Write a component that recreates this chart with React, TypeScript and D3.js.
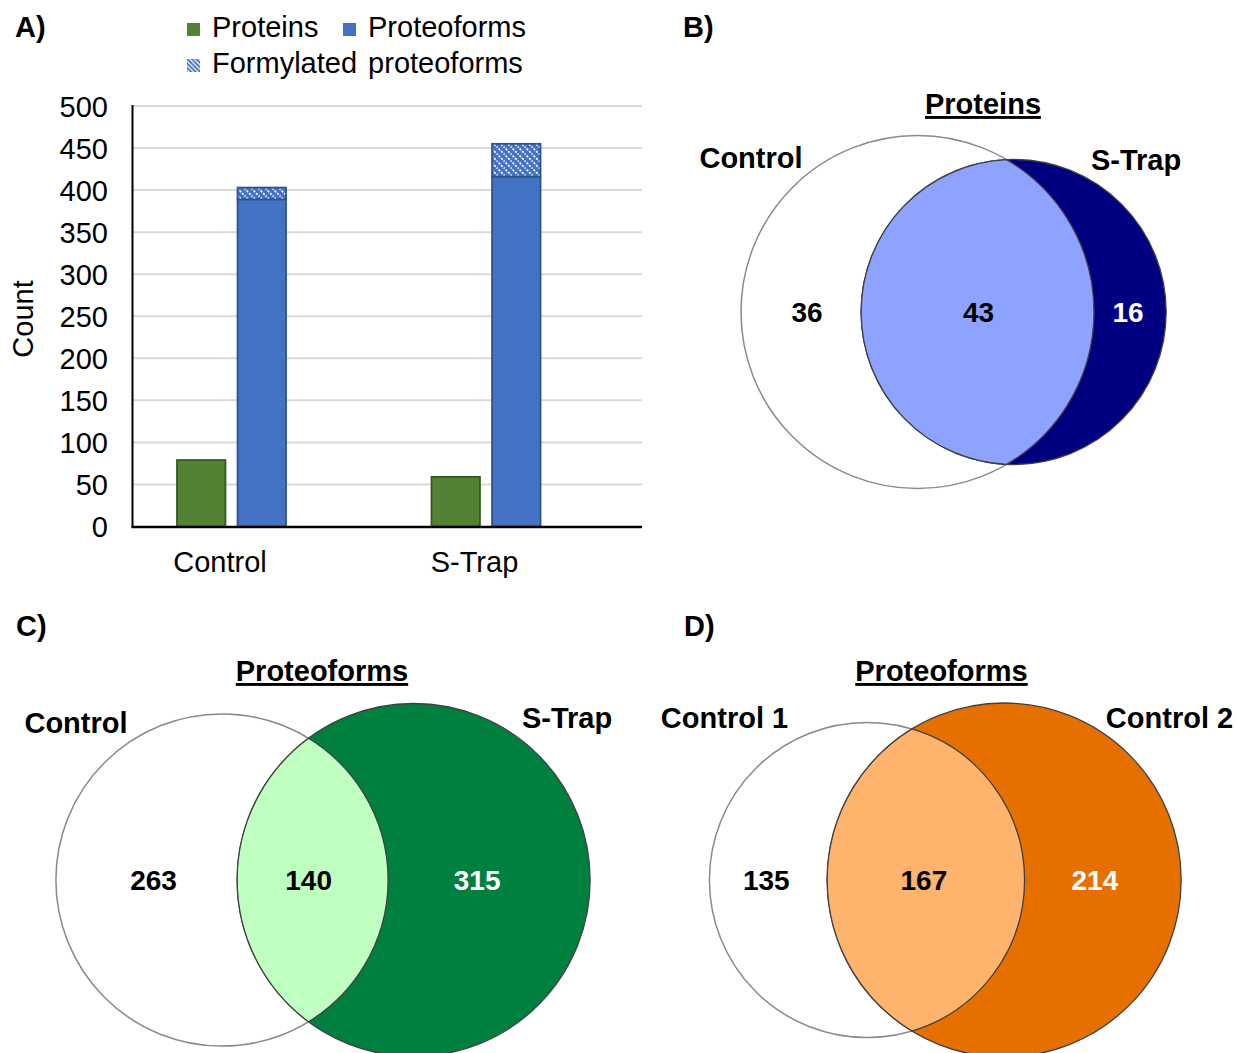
import React from "react";
import * as d3 from "d3";

// ---------- Panel A data ----------
const groups = ["Control", "S-Trap"];
const proteinCounts = [79, 59];
const proteoformCounts = [389, 416];
const formylatedCounts = [14, 39];
const yTicks = [0, 50, 100, 150, 200, 250, 300, 350, 400, 450, 500];
const legendLabels = ["Proteins", "Proteoforms", "Formylated proteoforms"];
const yAxisTitle = "Count";

// ---------- Venn data ----------
const panelLetters = ["A)", "B)", "C)", "D)"];
const vennTitles = ["Proteins", "Proteoforms", "Proteoforms"];
const vennSetLabels = [
  ["Control", "S-Trap"],
  ["Control", "S-Trap"],
  ["Control 1", "Control 2"],
];
// [left only, overlap, right only]
const vennCounts = [
  [36, 43, 16],
  [263, 140, 315],
  [135, 167, 214],
];

const FONT = "'Liberation Sans', Arial, Helvetica, sans-serif";
const C_GREEN = "#548235";
const C_GREEN_EDGE = "#385723";
const C_BLUE = "#4472C4";
const C_BLUE_EDGE = "#2F528F";

const vennStyles = [
  { right: "#000080", lens: "#8EA3FF" },
  { right: "#00803E", lens: "#BFFFC0" },
  { right: "#E57000", lens: "#FFB46E" },
];
const vennLayout = [
  { cx: 917.5, cy: 312, maxR: 176.5, title: [983, 114], left: [751, 168], right: [1136, 170], letter: [683, 37], nudge: [6, 1, -2] },
  { cx: 222, cy: 880, maxR: 176.5, title: [322, 681], left: [76, 733], right: [567, 728], letter: [16, 636], nudge: [7, -4, -12] },
  { cx: 867, cy: 880, maxR: 177, title: [941.5, 681], left: [724.5, 728], right: [1169.5, 728], letter: [684, 636], nudge: [-2, -2, -8] },
];

function lensArea(r1: number, r2: number, d: number) {
  if (d >= r1 + r2) return 0;
  if (d <= Math.abs(r1 - r2)) return Math.PI * Math.min(r1, r2) ** 2;
  const a1 = Math.acos((d * d + r1 * r1 - r2 * r2) / (2 * d * r1));
  const a2 = Math.acos((d * d + r2 * r2 - r1 * r1) / (2 * d * r2));
  const s = Math.sqrt((-d + r1 + r2) * (d + r1 - r2) * (d - r1 + r2) * (d + r1 + r2));
  return r1 * r1 * a1 + r2 * r2 * a2 - 0.5 * s;
}

function solveDistance(r1: number, r2: number, target: number) {
  let lo = Math.abs(r1 - r2) + 1e-6;
  let hi = r1 + r2;
  for (let i = 0; i < 80; i++) {
    const mid = (lo + hi) / 2;
    if (lensArea(r1, r2, mid) > target) lo = mid;
    else hi = mid;
  }
  return (lo + hi) / 2;
}

function Venn({ idx }: { idx: number }) {
  const [lo, ov, ro] = vennCounts[idx];
  const L = vennLayout[idx];
  const st = vennStyles[idx];
  const leftTotal = lo + ov;
  const rightTotal = ov + ro;
  const rScale = d3.scaleSqrt().domain([0, Math.max(leftTotal, rightTotal)]).range([0, L.maxR]);
  const r1 = rScale(leftTotal);
  const r2 = rScale(rightTotal);
  const k = L.maxR / Math.sqrt(Math.max(leftTotal, rightTotal));
  const target = Math.PI * k * k * ov;
  const d = solveDistance(r1, r2, target);
  const x1 = L.cx;
  const x2 = L.cx + d;
  const cy = L.cy;
  const a = (d * d + r1 * r1 - r2 * r2) / (2 * d);
  const h = Math.sqrt(Math.max(0, r1 * r1 - a * a));
  const px = x1 + a;
  const large1 = a > 0 ? 0 : 1;
  const large2 = a - d < 0 ? 0 : 1;
  const lens = `M${px},${cy - h} A${r1},${r1} 0 ${large1} 1 ${px},${cy + h} A${r2},${r2} 0 ${large2} 1 ${px},${cy - h} Z`;
  const labelY = cy + 10;
  const leftX = ((x1 - r1) + (x2 - r2)) / 2 + L.nudge[0];
  const midX = ((x2 - r2) + (x1 + r1)) / 2 + L.nudge[1];
  const rightX = ((x1 + r1) + (x2 + r2)) / 2 + L.nudge[2];
  const bold = { fontFamily: FONT, fontWeight: 700, fontSize: 29 } as const;
  return (
    <g>
      <circle cx={x1} cy={cy} r={r1} fill="#ffffff" stroke="#8a8a8a" strokeWidth={1.5} />
      <circle cx={x2} cy={cy} r={r2} fill={st.right} stroke="#404040" strokeWidth={1.3} />
      <path d={lens} fill={st.lens} stroke="#404040" strokeWidth={1.3} />
      <text x={leftX} y={labelY} textAnchor="middle" {...bold} fontSize={28} fill="#000">{lo}</text>
      <text x={midX} y={labelY} textAnchor="middle" {...bold} fontSize={28} fill="#000">{ov}</text>
      <text x={rightX} y={labelY} textAnchor="middle" {...bold} fontSize={28} fill="#fff">{ro}</text>
      <text x={L.title[0]} y={L.title[1]} textAnchor="middle" {...bold} style={{ textDecoration: "underline" }}>{vennTitles[idx]}</text>
      <text x={L.left[0]} y={L.left[1]} textAnchor="middle" {...bold}>{vennSetLabels[idx][0]}</text>
      <text x={L.right[0]} y={L.right[1]} textAnchor="middle" {...bold}>{vennSetLabels[idx][1]}</text>
      <text x={L.letter[0]} y={L.letter[1]} {...bold}>{panelLetters[idx + 1]}</text>
    </g>
  );
}

function BarPanel() {
  const x0 = d3.scaleBand().domain(groups).range([133, 642]);
  const x1 = d3.scaleBand().domain(["Proteins", "Proteoforms"]).range([44, 153]).paddingInner(0.2);
  const y = d3.scaleLinear().domain([0, 500]).range([526.5, 106]);
  const table = groups.map((g, i) => ({
    group: g,
    proteoforms: proteoformCounts[i],
    formylated: formylatedCounts[i],
  }));
  const stacked = d3.stack<any>().keys(["proteoforms", "formylated"])(table);
  const txt = { fontFamily: FONT, fontSize: 29 } as const;
  const bw = x1.bandwidth();
  return (
    <g>
      {yTicks.filter((t) => t > 0).map((t) => (
        <line key={t} x1={133} x2={642} y1={y(t)} y2={y(t)} stroke="#D9D9D9" strokeWidth={2} />
      ))}
      {yTicks.map((t) => (
        <text key={t} x={108} y={y(t) + 10.5} textAnchor="end" {...txt}>{t}</text>
      ))}
      {groups.map((g, i) => (
        <rect key={g} x={x0(g)! + x1("Proteins")!} y={y(proteinCounts[i])} width={bw}
          height={y(0) - y(proteinCounts[i])} fill={C_GREEN} stroke={C_GREEN_EDGE} strokeWidth={1.8} />
      ))}
      {stacked.map((layer) =>
        layer.map((seg, i) => (
          <rect key={layer.key + i} x={x0(groups[i])! + x1("Proteoforms")!} y={y(seg[1])} width={bw}
            height={y(seg[0]) - y(seg[1])}
            fill={layer.key === "formylated" ? "url(#hatch)" : C_BLUE}
            stroke={C_BLUE_EDGE} strokeWidth={1.8} />
        ))
      )}
      <line x1={132.5} x2={132.5} y1={105} y2={527.5} stroke="#000" strokeWidth={2} />
      <line x1={131.5} x2={642} y1={527} y2={527} stroke="#000" strokeWidth={2.5} />
      {groups.map((g) => (
        <text key={g} x={x0(g)! + 87} y={572} textAnchor="middle" {...txt}>{g}</text>
      ))}
      <text transform="translate(33,319) rotate(-90)" textAnchor="middle" {...txt}>{yAxisTitle}</text>
      {/* legend */}
      <rect x={187} y={23} width={13} height={13} fill={C_GREEN} />
      <text x={212} y={37} {...txt}>{legendLabels[0]}</text>
      <rect x={343} y={23} width={13} height={13} fill={C_BLUE} />
      <text x={368} y={37} {...txt}>{legendLabels[1]}</text>
      <rect x={187} y={59} width={13} height={13} fill="url(#hatchSmall)" />
      <text x={212} y={73} {...txt} style={{ wordSpacing: "3px" }}>{legendLabels[2]}</text>
      <text x={15} y={37} fontFamily={FONT} fontWeight={700} fontSize={29}>{panelLetters[0]}</text>
    </g>
  );
}

export default function App() {
  return (
    <svg width={1236} height={1053} viewBox="0 0 1236 1053"
      style={{ position: "absolute", left: 0, top: 0, background: "#fff" }}>
      <defs>
        <pattern id="hatch" patternUnits="userSpaceOnUse" width={7} height={7}>
          <rect width={7} height={7} fill={C_BLUE} />
          <path d="M-1,-1 L8,8 M-1,6 L1,8 M6,-1 L8,1" stroke="#ffffff" strokeWidth={1.6} strokeDasharray="2.2,1.4" />
        </pattern>
        <pattern id="hatchSmall" patternUnits="userSpaceOnUse" width={4.5} height={4.5}>
          <rect width={4.5} height={4.5} fill={C_BLUE} />
          <path d="M-1,-1 L5.5,5.5 M-1,3.5 L1,5.5 M3.5,-1 L5.5,1" stroke="#ffffff" strokeWidth={1.2} />
        </pattern>
      </defs>
      <rect width={1236} height={1053} fill="#fff" />
      <BarPanel />
      <Venn idx={0} />
      <Venn idx={1} />
      <Venn idx={2} />
    </svg>
  );
}
